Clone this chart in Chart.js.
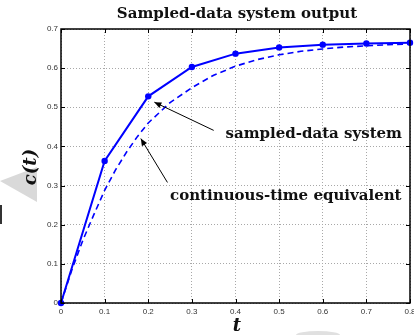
<!DOCTYPE html>
<html>
<head>
<meta charset="utf-8">
<script src="https://cdn.jsdelivr.net/npm/chart.js@4"></script>
<style>
  html, body { margin:0; padding:0; background:#fff; }
  #wrap { width:414px; height:335px; position:relative; }
</style>
</head>
<body>
<div id="wrap"><canvas id="chart" width="414" height="335"></canvas></div>
<script>
// sampled-data output (markers at each sample)
const sampleT = [0, 0.1, 0.2, 0.3, 0.4, 0.5, 0.6, 0.7, 0.8];
const sampleC = [0, 0.363, 0.528, 0.603, 0.637, 0.653, 0.660, 0.663, 0.665];

// continuous-time equivalent (dashed)
const contT = [0, 0.025, 0.05, 0.075, 0.1, 0.125, 0.15, 0.175, 0.2, 0.25, 0.3, 0.35, 0.4, 0.45, 0.5, 0.55, 0.6, 0.65, 0.7, 0.75, 0.8];
const contC = [0, 0.085, 0.16, 0.225, 0.288, 0.34, 0.385, 0.425, 0.46, 0.512, 0.55, 0.582, 0.605, 0.622, 0.634, 0.643, 0.649, 0.654, 0.657, 0.660, 0.662];

const xTicks = [0, 0.1, 0.2, 0.3, 0.4, 0.5, 0.6, 0.7, 0.8];
const yTicks = [0, 0.1, 0.2, 0.3, 0.4, 0.5, 0.6, 0.7];

const titleText = 'Sampled-data system output';
const labelSampled = 'sampled-data system';
const labelCont = 'continuous-time equivalent';

const blue = '#0000ff';
const serif = '"DejaVu Serif", serif';

// extra drawing: box, inward ticks, title, axis names, annotations
const decor = {
  id: 'decor',
  beforeDraw(chart) {
    const ctx = chart.ctx;
    ctx.save();
    // grey smudges seen on the scan
    ctx.fillStyle = '#d9d9d9';
    ctx.beginPath();
    ctx.moveTo(0, 181); ctx.lineTo(37, 167); ctx.lineTo(37, 202); ctx.closePath();
    ctx.fill();
    ctx.fillStyle = '#333';
    ctx.fillRect(0, 205, 2, 19);
    ctx.fillStyle = '#e0e0e0';
    ctx.beginPath();
    ctx.ellipse(318, 335, 22, 4, 0, Math.PI, 2 * Math.PI);
    ctx.fill();
    ctx.restore();
  },
  afterDraw(chart) {
    const ctx = chart.ctx;
    const a = chart.chartArea;
    const xs = chart.scales.x, ys = chart.scales.y;
    ctx.save();

    // inward ticks
    ctx.strokeStyle = '#000';
    ctx.lineWidth = 1;
    ctx.beginPath();
    yTicks.forEach(v => {
      const y = Math.round(ys.getPixelForValue(v)) + 0.5;
      ctx.moveTo(a.left, y); ctx.lineTo(a.left + 4, y);
      ctx.moveTo(a.right, y); ctx.lineTo(a.right - 4, y);
    });
    xTicks.forEach(v => {
      const x = Math.round(xs.getPixelForValue(v)) + 0.5;
      ctx.moveTo(x, a.bottom); ctx.lineTo(x, a.bottom - 4);
      ctx.moveTo(x, a.top); ctx.lineTo(x, a.top + 4);
    });
    ctx.stroke();

    // box
    ctx.lineWidth = 1.5;
    ctx.strokeRect(a.left, a.top, a.right - a.left, a.bottom - a.top);

    // title
    ctx.fillStyle = '#111';
    ctx.textAlign = 'center';
    ctx.textBaseline = 'middle';
    ctx.font = 'bold 15px ' + serif;
    ctx.fillText(titleText, 237, 14);

    // axis names
    ctx.font = 'bold italic 18px ' + serif;
    ctx.fillText('t', 237, 326);
    ctx.save();
    ctx.translate(31, 167);
    ctx.rotate(-Math.PI / 2);
    ctx.fillText('c(t)', 0, 0);
    ctx.restore();

    // annotations
    const px = (t, c) => [xs.getPixelForValue(t), ys.getPixelForValue(c)];
    const arrow = (from, to) => {
      const [x1, y1] = px(from[0], from[1]);
      const [x2, y2] = px(to[0], to[1]);
      ctx.strokeStyle = '#000';
      ctx.fillStyle = '#000';
      ctx.lineWidth = 1;
      ctx.beginPath(); ctx.moveTo(x1, y1); ctx.lineTo(x2, y2); ctx.stroke();
      const ang = Math.atan2(y2 - y1, x2 - x1);
      const L = 7, W = 3;
      ctx.beginPath();
      ctx.moveTo(x2, y2);
      ctx.lineTo(x2 - L * Math.cos(ang) + W * Math.sin(ang), y2 - L * Math.sin(ang) - W * Math.cos(ang));
      ctx.lineTo(x2 - L * Math.cos(ang) - W * Math.sin(ang), y2 - L * Math.sin(ang) + W * Math.cos(ang));
      ctx.closePath();
      ctx.fill();
    };
    arrow([0.350, 0.441], [0.214, 0.513]);
    arrow([0.244, 0.308], [0.183, 0.420]);

    ctx.fillStyle = '#111';
    ctx.font = 'bold 15px ' + serif;
    ctx.textAlign = 'left';
    let p = px(0.377, 0.431);
    ctx.fillText(labelSampled, p[0], p[1]);
    p = px(0.250, 0.273);
    ctx.fillText(labelCont, p[0], p[1]);

    ctx.restore();
  }
};

new Chart(document.getElementById('chart'), {
  type: 'scatter',
  data: {
    datasets: [
      {
        label: 'continuous-time equivalent',
        data: contT.map((t, i) => ({ x: t, y: contC[i] })),
        showLine: true,
        borderColor: blue,
        borderWidth: 1.6,
        borderDash: [6, 4],
        pointRadius: 0,
        tension: 0
      },
      {
        label: 'sampled-data system',
        data: sampleT.map((t, i) => ({ x: t, y: sampleC[i] })),
        showLine: true,
        borderColor: blue,
        backgroundColor: blue,
        borderWidth: 2,
        pointRadius: 3.2,
        pointBorderWidth: 0,
        tension: 0
      }
    ]
  },
  options: {
    responsive: false,
    animation: false,
    clip: false,
    layout: { padding: { top: 29, right: 1, left: 0, bottom: 0 } },
    plugins: { legend: { display: false }, tooltip: { enabled: false }, title: { display: false } },
    scales: {
      x: {
        type: 'linear', min: 0, max: 0.8,
        afterBuildTicks: s => { s.ticks = xTicks.map(v => ({ value: v })); },
        afterFit: s => { s.height = 32; s.paddingRight = 0; s.paddingLeft = 0; },
        grid: { color: '#a8a8a8', drawTicks: false, lineWidth: 1 },
        border: { display: false, dash: [1, 2] },
        ticks: { color: '#333', font: { family: 'Liberation Sans', size: 8 }, padding: 4, maxRotation: 0,
                 callback: v => String(v) }
      },
      y: {
        type: 'linear', min: 0, max: 0.7,
        afterBuildTicks: s => { s.ticks = yTicks.map(v => ({ value: v })); },
        afterFit: s => { s.width = 61; s.paddingTop = 0; s.paddingBottom = 0; },
        grid: { color: '#a8a8a8', drawTicks: false, lineWidth: 1 },
        border: { display: false, dash: [1, 2] },
        ticks: { color: '#333', font: { family: 'Liberation Sans', size: 8 }, padding: 3,
                 callback: v => String(v) }
      }
    }
  },
  plugins: [decor]
});
</script>
</body>
</html>
